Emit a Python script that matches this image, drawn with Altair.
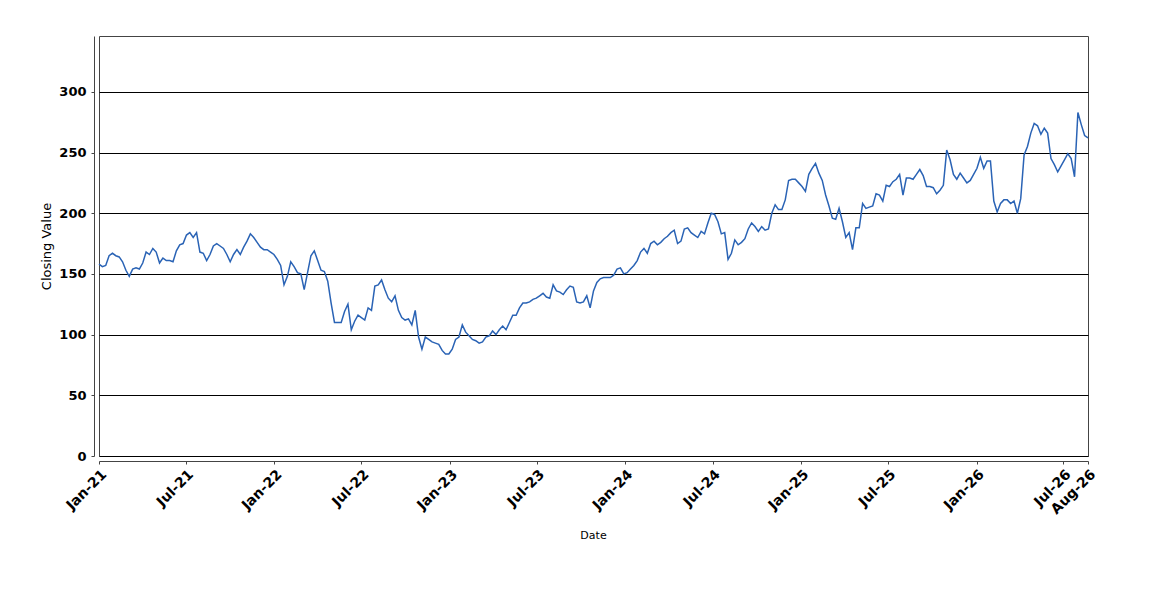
import altair as alt
import pandas as pd

# Weekly closing values (first week starts 2021-01-01)
start_date = "2021-01-01"
closing = [
    158, 156, 157, 165, 167, 165, 164, 160, 153, 148,
    154, 155, 154, 159, 168, 166, 171, 168, 159, 163,
    161, 161, 160, 169, 174, 175, 182, 184, 180, 184,
    168, 167, 161, 166, 173, 175, 173, 171, 166, 160,
    166, 170, 166, 172, 177, 183, 180, 176, 172, 170,
    170, 168, 166, 162, 157, 141, 148, 160, 156,
    151, 150, 137, 151, 165, 169, 161, 153, 152, 144,
    126, 110, 110, 110, 119, 125, 104, 111, 116, 114,
    112, 122, 120, 140, 141, 145, 137, 130, 127, 132,
    120, 114, 112, 113, 108, 120, 98, 88, 98, 96,
    94, 93, 92, 87, 84, 84, 88, 96, 98,
    108, 102, 99, 96, 95, 93, 94, 98, 99, 103,
    100, 104, 107, 104, 110, 116, 116, 122, 126, 126,
    127, 129, 130, 132, 134, 131, 130, 141, 136, 135,
    133, 137, 140, 139, 127, 126, 127, 132, 122, 136,
    143, 146, 147, 147, 147, 149, 154, 155, 150, 151,
    154, 157, 161,
    168, 171, 167, 175, 177, 174, 176, 179, 181, 184,
    186, 175, 177, 187, 188, 184, 182, 180, 185, 183,
    192, 200, 199, 193, 183, 184, 162, 167, 178, 174,
    176, 179, 187, 192, 189, 185, 189, 186, 187, 200,
    207, 203, 203, 211, 227, 228, 228, 225, 222, 218,
    232, 237, 241, 233, 227, 215, 206, 196, 195, 204,
    193, 180, 184, 170, 188, 188, 208, 204, 205, 206,
    216, 215, 210, 223, 222, 226, 228, 232, 215, 229,
    229, 228, 232, 236, 231, 222, 222, 221, 216, 219,
    223, 252, 244, 232, 228, 233,
    229, 225, 227, 232, 237, 246, 237, 243, 243, 210,
    201, 208, 211, 211, 208, 210, 200, 212, 248, 255,
    266, 274, 272, 265, 270, 266, 245, 240, 234, 239,
    244, 249, 245, 230, 283, 273, 264, 262,
]

y_ticks = [0, 50, 100, 150, 200, 250, 300]
x_tick_dates = [
    "2021-01-01", "2021-07-01", "2022-01-01", "2022-07-01", "2023-01-01",
    "2023-07-01", "2024-01-01", "2024-07-01", "2025-01-01", "2025-07-01",
    "2026-01-01", "2026-07-01",
]

dates = pd.date_range(start_date, periods=len(closing), freq="7D")
df = pd.DataFrame({"Date": dates, "Close": closing})

last = dates[-1]


def dt(ts):
    ts = pd.Timestamp(ts)
    return alt.DateTime(year=ts.year, month=ts.month, date=ts.day)


tick_values = [dt(d) for d in x_tick_dates] + [dt(last)]

chart = (
    alt.Chart(df)
    .mark_line(color="#2a63b5", strokeWidth=1.5)
    .encode(
        x=alt.X(
            "Date:T",
            scale=alt.Scale(domain=[dt(start_date), dt(last)], nice=False),
            axis=alt.Axis(
                values=tick_values,
                labelExpr="timeFormat(datum.value, '%b-%y')",
                labelAngle=315,
                labelFont="DejaVu Sans",
                labelFontWeight="bold",
                labelFontSize=14,
                labelColor="#000000",
                labelPadding=3,
                labelOverlap=False,
                labelFlush=False,
                tickSize=3,
                grid=False,
                offset=5,
                domainColor="#444444",
                tickColor="#444444",
                title="Date",
                titleFont="DejaVu Sans",
                titleFontSize=11,
                titleFontWeight="normal",
                titleColor="#000000",
                titleX=494,
                titleY=74,
                titleBaseline="middle",
            ),
        ),
        y=alt.Y(
            "Close:Q",
            scale=alt.Scale(domain=[0, 346], nice=False, zero=True),
            axis=alt.Axis(
                values=y_ticks,
                labelFont="DejaVu Sans",
                labelFontWeight="bold",
                labelFontSize=13,
                labelColor="#000000",
                labelPadding=5,
                tickSize=3,
                grid=True,
                gridColor="#000000",
                gridWidth=1,
                offset=5,
                domainColor="#444444",
                tickColor="#444444",
                title="Closing Value",
                titleFont="DejaVu Sans",
                titleFontSize=13,
                titleFontWeight="normal",
                titleColor="#000000",
                titleX=-48,
                titleY=210,
                titleBaseline="middle",
            ),
        ),
    )
    .properties(
        width=989,
        height=420,
        background="white",
        autosize=alt.AutoSizeParams(type="none"),
        padding={"left": 91, "top": 28, "right": 40, "bottom": 90},
    )
    .configure_view(stroke="#444444", strokeWidth=1)
)

chart.save("out.html", embed_options={"renderer": "svg", "actions": False})
